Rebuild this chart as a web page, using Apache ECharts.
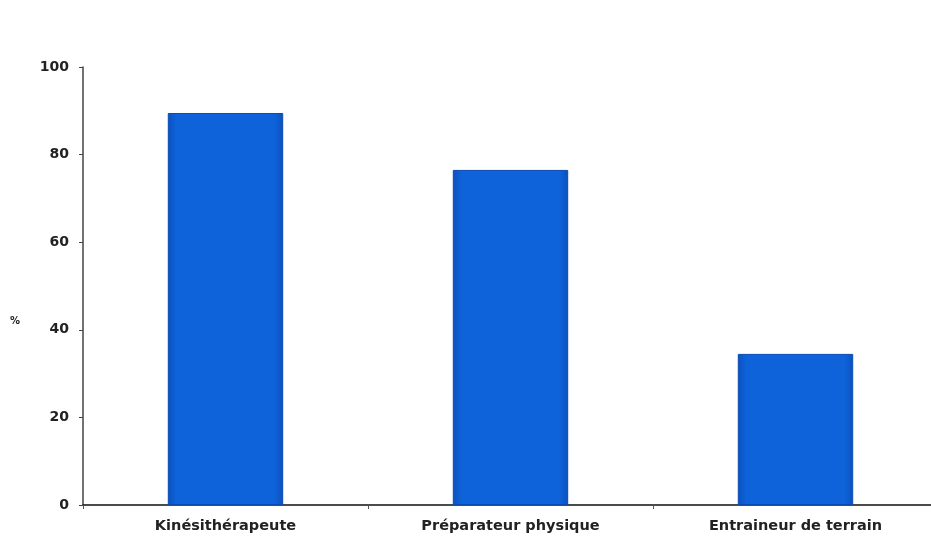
<!DOCTYPE html>
<html>
<head>
<meta charset="utf-8">
<script src="https://cdn.jsdelivr.net/npm/echarts@6/dist/echarts.min.js"></script>
<style>
  html, body { margin: 0; padding: 0; background: #fff; overflow: hidden; }
  #chart { width: 938px; height: 537px; }
</style>
</head>
<body>
<div id="chart"></div>
<script>
const categories = ['Kinésithérapeute', 'Préparateur physique', 'Entraineur de terrain']
const values = [89.5, 76.5, 34.5]
const yTicks = [0, 20, 40, 60, 80, 100]

const myChart = echarts.init(document.getElementById('chart'))
const barColor = new echarts.graphic.LinearGradient(0, 0, 1, 0, [
  { offset: 0, color: '#0a52c0' },
  { offset: 0.08, color: '#0f63da' },
  { offset: 0.92, color: '#0f63da' },
  { offset: 1, color: '#0a52c0' }
])
const labelFont = 'DejaVu Sans'
const option = {
  animation: false,
  backgroundColor: '#fff',
  grid: {
    left: 83,
    right: 0,
    top: 67,
    bottom: 32
  },
  // axis title "%" sits a little below the middle in the original
  graphic: [
    {
      type: 'text',
      left: 10,
      top: 316,
      style: {
        text: '%',
        fill: '#222',
        font: 'bold 10px ' + labelFont
      }
    }
  ],
  xAxis: {
    type: 'category',
    data: categories,
    axisLine: { lineStyle: { color: '#111', width: 1.5 } },
    axisTick: { show: true, length: 4, lineStyle: { color: '#555' } },
    axisLabel: {
      color: '#222',
      fontFamily: labelFont,
      fontWeight: 'bold',
      fontSize: 14.5,
      margin: 14
    }
  },
  yAxis: {
    type: 'value',
    min: yTicks[0],
    max: yTicks[yTicks.length - 1],
    interval: 20,
    splitLine: { show: false },
    axisLine: { show: true, lineStyle: { color: '#444', width: 1.5 } },
    axisTick: { show: true, length: 4, lineStyle: { color: '#444' } },
    axisLabel: {
      color: '#222',
      fontFamily: labelFont,
      fontWeight: 'bold',
      fontSize: 14,
      margin: 14
    }
  },
  series: [
    {
      type: 'bar',
      data: values,
      barWidth: '40.5%',
      itemStyle: {
        color: barColor,
        borderColor: '#0a4bb0',
        borderWidth: 1
      }
    }
  ]
}
myChart.setOption(option)
</script>
</body>
</html>
